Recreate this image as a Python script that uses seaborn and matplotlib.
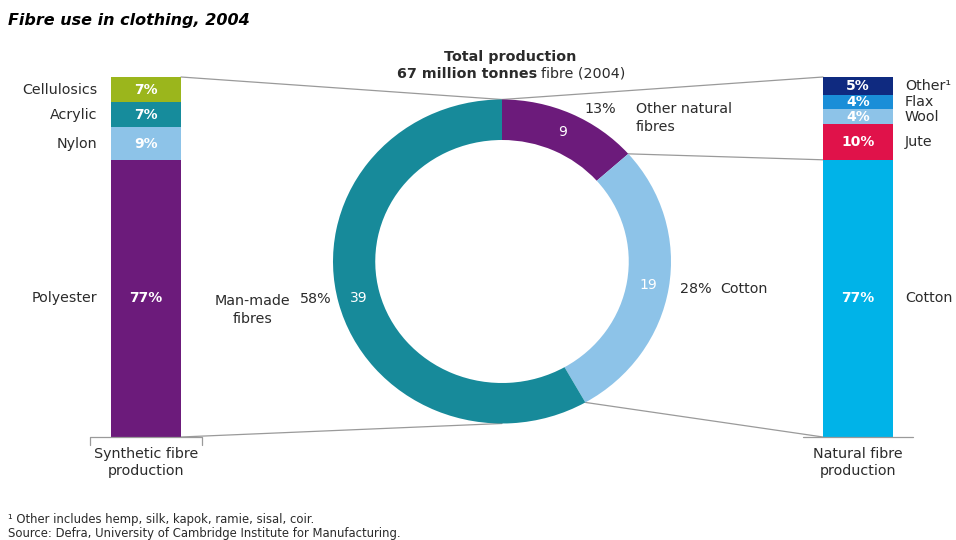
import numpy as np
import matplotlib
matplotlib.use("Agg")
import matplotlib.pyplot as plt
from matplotlib.patches import ConnectionPatch
import seaborn as sns

# Synthetic fibre split (top to bottom of the stack), percent
synthetic_labels = ["Cellulosics", "Acrylic", "Nylon", "Polyester"]
synthetic_share = [7, 7, 9, 77]
synthetic_colors = ["#9bb61c", "#168c9c", "#8dc3e8", "#6c1b7b"]

# Natural fibre split (top to bottom of the stack), percent
natural_labels = ["Other¹", "Flax", "Wool", "Jute", "Cotton"]
natural_share = [5, 4, 4, 10, 77]
natural_colors = ["#0f2a80", "#1a8ed8", "#8dc3e8", "#e0124a", "#00b3e8"]

# Total production, million tonnes
total_labels = ["Other natural\nfibres", "Cotton", "Man-made\nfibres"]
total_mt = [9, 19, 39]
total_colors = ["#6c1b7b", "#8dc3e8", "#178a9a"]

sns.set_theme(style="white")
plt.rcParams["font.family"] = ["DejaVu Sans"]

W, H = 956, 540
fig = plt.figure(figsize=(W / 100, H / 100), dpi=100)
TXT = "#2b2b2b"
LINE = "#9a9a9a"
FS = 10.3


def frect(x0, y0, x1, y1):
    """Pixel box (top-left origin) -> figure rect."""
    return [x0 / W, 1 - y1 / H, (x1 - x0) / W, (y1 - y0) / H]


def stacked_bar(ax, labels, shares, colors, side):
    tops = np.cumsum(shares[::-1])[::-1]
    for top, col in zip(tops, colors):
        sns.barplot(x=[0], y=[top], color=col, saturation=1, width=1,
                    native_scale=True, errorbar=None, linewidth=0, ax=ax)
    ax.set_xlim(-0.5, 0.5)
    ax.set_ylim(0, 100)
    ax.axis("off")
    for lab, s, top in zip(labels, shares, tops):
        c = top - s / 2
        ax.text(0, c, f"{s}%", ha="center", va="center", color="white",
                fontsize=10, fontweight="bold")
        if side == "left":
            ax.annotate(lab, xy=(-0.5, c), xytext=(-14, 0), textcoords="offset pixels",
                        ha="right", va="center", fontsize=FS, color=TXT)
        else:
            ax.annotate(lab, xy=(0.5, c), xytext=(12, 0), textcoords="offset pixels",
                        ha="left", va="center", fontsize=FS, color=TXT)


# Left stacked bar: synthetic
ax_l = fig.add_axes(frect(111, 77, 181, 437))
stacked_bar(ax_l, synthetic_labels, synthetic_share, synthetic_colors, "left")
ax_l.plot([-0.8, -0.8, 0.8, 0.8], [-2.2, 0, 0, -2.2], color=LINE, lw=0.9, clip_on=False)
ax_l.annotate("Synthetic fibre\nproduction", xy=(0, 0), xytext=(0, -10),
              textcoords="offset pixels", ha="center", va="top", fontsize=FS,
              color=TXT, linespacing=1.3)

# Right stacked bar: natural
ax_r = fig.add_axes(frect(823, 77, 893, 437))
stacked_bar(ax_r, natural_labels, natural_share, natural_colors, "right")
ax_r.plot([-0.79, 0.79], [0, 0], color=LINE, lw=0.9, clip_on=False)
ax_r.annotate("Natural fibre\nproduction", xy=(0, 0), xytext=(0, -10),
              textcoords="offset pixels", ha="center", va="top", fontsize=FS,
              color=TXT, linespacing=1.3)

# Donut of total production
CX, CY, RX, RY = 502, 261.5, 169, 162
ax_d = fig.add_axes(frect(CX - RX, CY - RY, CX + RX, CY + RY))
total = sum(total_mt)
ax_d.pie(total_mt, colors=total_colors, startangle=90, counterclock=False,
         radius=1, wedgeprops=dict(width=0.25, linewidth=0),
         autopct=lambda p: f"{p * total / 100:.0f}", pctdistance=0.875,
         textprops=dict(color="white", fontsize=10))
ax_d.set_xlim(-1, 1)
ax_d.set_ylim(-1, 1)
ax_d.set_aspect("auto")
ax_d.axis("off")

pct = [round(v / total * 100) for v in total_mt]


def d(x, y):
    return ((x - CX) / RX, (CY - y) / RY)


kw = dict(fontsize=FS, color=TXT, clip_on=False)
ax_d.text(*d(616, 109), f"{pct[0]}%", ha="right", va="center", **kw)
ax_d.text(*d(636, 118), total_labels[0], ha="left", va="center", linespacing=1.3, **kw)
ax_d.text(*d(680, 289), f"{pct[1]}%", ha="left", va="center", **kw)
ax_d.text(*d(720, 289), total_labels[1], ha="left", va="center", **kw)
ax_d.text(*d(300, 299), f"{pct[2]}%", ha="left", va="center", **kw)
ax_d.text(*d(290, 310), total_labels[2], ha="right", va="center", multialignment="center",
          linespacing=1.3, **kw)

# Connector lines between the donut and the stacked bars
bounds = np.cumsum([0] + total_mt)
ang = np.deg2rad(90 - 360 * bounds / total)
top_pt = (np.cos(ang[0]), np.sin(ang[0]))
mid_pt = (np.cos(ang[1]), np.sin(ang[1]))
low_pt = (np.cos(ang[2]), np.sin(ang[2]))
bottom_pt = (0.0, -1.0)
cotton_top = natural_share[-1]
links = [
    (ax_l, (0.5, 100), top_pt),
    (ax_l, (0.5, 0), bottom_pt),
    (ax_r, (-0.5, 100), top_pt),
    (ax_r, (-0.5, cotton_top), mid_pt),
    (ax_r, (-0.5, 0), low_pt),
]
for ax_b, pa, pb in links:
    con = ConnectionPatch(xyA=pa, coordsA=ax_b.transData,
                          xyB=pb, coordsB=ax_d.transData,
                          color=LINE, lw=0.9, zorder=-1)
    fig.add_artist(con)

# Titles and notes
fig.text(8 / W, 1 - 20 / H, "Fibre use in clothing, 2004", fontsize=11.5,
         fontweight="bold", fontstyle="italic", color="black", va="center")
fig.text(510 / W, 1 - 57 / H, "Total production", fontsize=FS, fontweight="bold",
         color=TXT, ha="center", va="center")
fig.text(537 / W, 1 - 78 / H, "67 million tonnes", fontsize=FS, fontweight="bold",
         color=TXT, ha="right", va="baseline")
fig.text(541 / W, 1 - 78 / H, "fibre (2004)", fontsize=FS, color=TXT,
         ha="left", va="baseline")
fig.text(8 / W, 1 - 519 / H, "¹ Other includes hemp, silk, kapok, ramie, sisal, coir.",
         fontsize=8.4, color=TXT, va="center")
fig.text(8 / W, 1 - 533 / H,
         "Source: Defra, University of Cambridge Institute for Manufacturing.",
         fontsize=8.4, color=TXT, va="center")

fig.savefig("out.png", dpi=100, facecolor="white")
